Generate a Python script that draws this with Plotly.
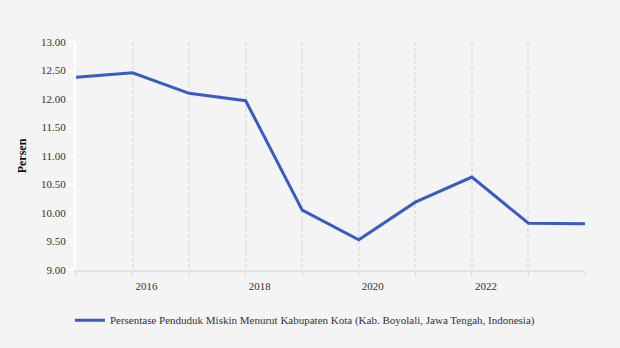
import plotly.graph_objects as go

years = [2015, 2016, 2017, 2018, 2019, 2020, 2021, 2022, 2023, 2024]
values = [12.38, 12.46, 12.10, 11.97, 10.05, 9.53, 10.19, 10.63, 9.82, 9.81]
tick_years = years
tick_text = ["", "2016", "", "2018", "", "2020", "", "2022", "", ""]
series_name = "Persentase Penduduk Miskin Menurut Kabupaten Kota (Kab. Boyolali, Jawa Tengah, Indonesia)"

font_family = "Liberation Serif, Times New Roman, serif"

fig = go.Figure()
fig.add_trace(go.Scatter(
    x=years, y=values, mode="lines", name=series_name,
    line=dict(color="#3a5bc6", width=3),
))

fig.update_layout(
    width=620, height=348,
    paper_bgcolor="#f4f4f4", plot_bgcolor="#f4f4f4",
    margin=dict(l=76, r=35, t=42, b=78),
    font=dict(family=font_family, size=11, color="#333333"),
    showlegend=True,
    legend=dict(orientation="h", x=-0.012, xanchor="left", y=-0.22, yanchor="middle",
                font=dict(family=font_family, size=11, color="#333333"),
                bgcolor="rgba(0,0,0,0)"),
)
fig.update_xaxes(
    range=[2015, 2024], tickmode="array", tickvals=tick_years, ticktext=tick_text,
    showgrid=True, gridcolor="#e3e3e3", gridwidth=1.5, griddash="4px,2px",
    showline=True, linecolor="#e4e4e4", linewidth=2,
    ticks="outside", ticklen=5, tickcolor="#dedede", tickwidth=1,
    ticklabelshift=14, zeroline=False,
    tickfont=dict(family=font_family, size=11, color="#333333"),
)
fig.update_yaxes(
    range=[9, 13], dtick=0.5, tickformat=".2f",
    showgrid=False, zeroline=False,
    showline=True, linecolor="#ffffff", linewidth=2,
    ticks="outside", ticklen=6, tickcolor="#ffffff", tickwidth=2,
    title=dict(text="<b>Persen</b>", font=dict(family=font_family, size=12, color="#111111"), standoff=12),
    tickfont=dict(family=font_family, size=11, color="#333333"),
)

fig.write_html("out.html")
